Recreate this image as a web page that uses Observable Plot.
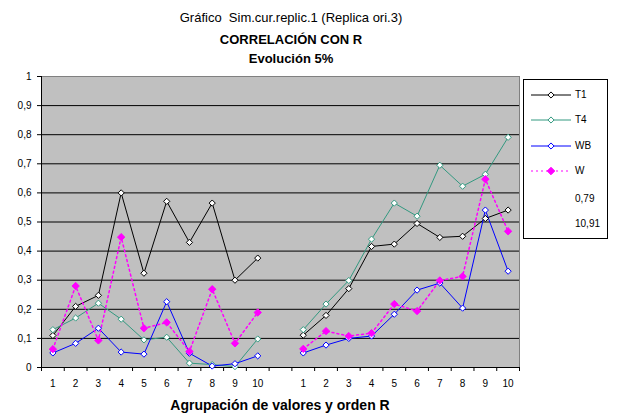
<!DOCTYPE html>
<html><head><meta charset="utf-8">
<script src="https://cdn.jsdelivr.net/npm/d3@7"></script>
<script src="https://cdn.jsdelivr.net/npm/@observablehq/plot@0.6"></script>
<style>
body{margin:0;background:#fff;font-family:"Liberation Sans",Arial,sans-serif;}
#wrap{position:relative;width:620px;height:420px;overflow:hidden;background:#fff}
.ttl{position:absolute;left:0;width:582px;text-align:center;font-size:13px;line-height:15px;color:#000;white-space:pre}
#chart{position:absolute;left:0;top:0}
#xlab{position:absolute;left:0;width:560px;text-align:center;top:397px;font-size:14px;font-weight:bold;line-height:17px}
#legend{position:absolute;left:523px;top:79px;width:83px;height:158px;border:1px solid #000;background:#fff;font-size:10px}
#legend .row{position:absolute;left:0;height:14px;width:83px}
#legend .row svg{position:absolute;left:7px;top:0}
#legend .row span{position:absolute;left:51px;top:1px;line-height:12px}
</style></head><body>
<div id="wrap">
  <div class="ttl" style="top:10px">Gráfico  Sim.cur.replic.1 (Replica ori.3)</div>
  <div class="ttl" style="top:32px;font-weight:bold">CORRELACIÓN CON R</div>
  <div class="ttl" style="top:51px;font-weight:bold">Evolución 5%</div>
  <div id="chart"></div>
  <div id="xlab">Agrupación de valores y orden R</div>
  <div id="legend"></div>
</div>
<script>
// ---- data ----
const categories = ["1","2","3","4","5","6","7","8","9","10"];
const groups = ["A","B"];
const seriesNames = ["T1","T4","WB","W"];
const seriesColors = ["#000000","#339980","#0000FF","#FF00FF"];
const legendExtra = ["0,79","10,91"];
const yTicks = [0,0.1,0.2,0.3,0.4,0.5,0.6,0.7,0.8,0.9,1];

const T1_A = [0.11,0.21,0.248,0.60,0.324,0.571,0.43,0.565,0.30,0.376];
const T1_B = [0.111,0.179,0.271,0.416,0.424,0.495,0.447,0.451,0.512,0.541];
const T4_A = [0.13,0.17,0.221,0.166,0.095,0.104,0.015,0.01,0.003,0.098];
const T4_B = [0.13,0.218,0.299,0.441,0.565,0.52,0.695,0.623,0.664,0.791];
const WB_A = [0.05,0.083,0.135,0.053,0.046,0.226,0.049,0.005,0.013,0.04];
const WB_B = [0.05,0.077,0.10,0.108,0.183,0.266,0.29,0.204,0.541,0.331];
const W_A  = [0.063,0.28,0.093,0.448,0.135,0.155,0.055,0.269,0.083,0.189];
const W_B  = [0.064,0.125,0.108,0.118,0.218,0.194,0.299,0.313,0.647,0.468];

const seriesData = {T1:[T1_A,T1_B], T4:[T4_A,T4_B], WB:[WB_A,WB_B], W:[W_A,W_B]};

// ---- build rows ----
const n = categories.length;
const rows = [];
seriesNames.forEach((s) => {
  groups.forEach((g, gi) => {
    seriesData[s][gi].forEach((v, i) => {
      rows.push({serie: s, group: g, pos: gi * (n + 1) + i + 1, label: categories[i], value: v});
    });
  });
});
const positions = [];
groups.forEach((g, gi) => categories.forEach((c, i) => positions.push({pos: gi * (n + 1) + i + 1, label: c})));
const nSlots = groups.length * n + (groups.length - 1);
const boundaries = d3.range(0, nSlots + 1).map(d => d + 0.5);
const colorOf = Object.fromEntries(seriesNames.map((s, i) => [s, seriesColors[i]]));
const labelOf = new Map(positions.map(p => [p.pos, p.label]));

const marks = [
  Plot.frame({fill: "#C0C0C0", stroke: "none"}),
  Plot.gridY(yTicks.filter(d => d > 0 && d < 1), {stroke: "#000", strokeOpacity: 1, strokeWidth: 1}),
  Plot.frame({stroke: "#808080", strokeWidth: 1}),
  Plot.ruleY([0], {stroke: "#000"}),
  Plot.ruleX([boundaries[0]], {stroke: "#000"}),
  Plot.axisY(yTicks, {label: null, tickSize: 4, tickPadding: 6, fontSize: 10, tickFormat: d => String(d).replace(".", ","), stroke: "#000"}),
  Plot.axisX(boundaries, {label: null, tickSize: 4, tickFormat: () => "", stroke: "#000"}),
  Plot.axisX(positions.map(p => p.pos), {label: null, tickSize: 0, tickPadding: 12, fontSize: 10, tickFormat: d => labelOf.get(d)})
];
seriesNames.forEach(s => {
  const data = rows.filter(r => r.serie === s);
  const isW = s === "W";
  marks.push(Plot.line(data, {x: "pos", y: "value", z: "group", stroke: colorOf[s], strokeWidth: isW ? 1.5 : 1,
    strokeDasharray: isW ? "2,3" : null}));
});
seriesNames.forEach(s => {
  const data = rows.filter(r => r.serie === s);
  const isW = s === "W";
  marks.push(Plot.dot(data, {x: "pos", y: "value", symbol: "diamond2", r: isW ? 3.3 : 2.8,
    fill: isW ? colorOf[s] : "#fff", stroke: colorOf[s], strokeWidth: 1}));
});

const chart = Plot.plot({
  width: 620, height: 420,
  marginTop: 76, marginBottom: 53, marginLeft: 41, marginRight: 101,
  style: {fontFamily: "Liberation Sans, Arial, sans-serif", fontSize: "10px", background: "transparent", color: "#000"},
  x: {domain: [0.5, nSlots + 0.5], axis: null, label: null},
  y: {domain: [0, 1], axis: null, label: null},
  marks
});
document.getElementById("chart").appendChild(chart);

// ---- legend ----
const leg = document.getElementById("legend");
const rowTops = [8, 33, 59, 84, 112, 137];
seriesNames.forEach((s, i) => {
  const isW = s === "W";
  const row = document.createElement("div");
  row.className = "row";
  row.style.top = rowTops[i] + "px";
  const c = colorOf[s];
  const sym = d3.symbol(d3.symbolDiamond2, isW ? 36 : 24)();
  row.innerHTML = `<svg width="42" height="14"><line x1="0" x2="40" y1="7" y2="7" stroke="${c}" stroke-width="1" ${isW ? 'stroke-dasharray="2,3"' : ''}/>
    <path d="${sym}" transform="translate(20,7)" fill="${isW ? c : '#fff'}" stroke="${c}"/></svg><span>${s}</span>`;
  leg.appendChild(row);
});
legendExtra.forEach((t, j) => {
  const row = document.createElement("div");
  row.className = "row";
  row.style.top = rowTops[4 + j] + "px";
  row.innerHTML = `<span>${t}</span>`;
  leg.appendChild(row);
});
</script>
</body></html>
